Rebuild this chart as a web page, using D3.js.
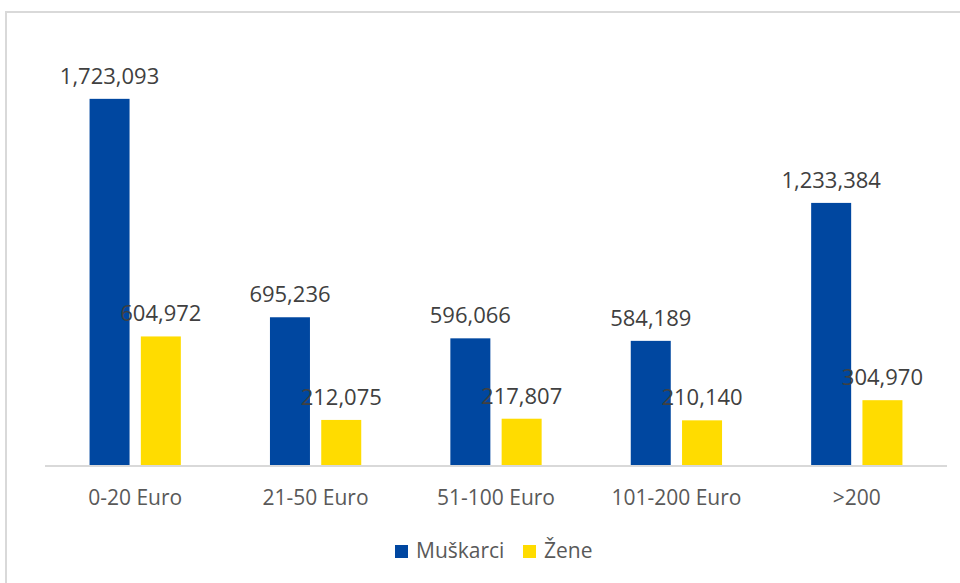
<!DOCTYPE html>
<html>
<head>
<meta charset="utf-8">
<script src="https://cdn.jsdelivr.net/npm/d3@7"></script>
<style>
  html, body { margin: 0; padding: 0; background: #fff; overflow: hidden; }
  svg { display: block; font-family: "Open Sans", "Liberation Sans", sans-serif; }
</style>
</head>
<body>
<svg id="chart" width="960" height="583"></svg>
<script>
const categories = ['0-20 Euro', '21-50 Euro', '51-100 Euro', '101-200 Euro', '>200'];
const seriesNames = ['Muškarci', 'Žene'];
const muskarci = [1723093, 695236, 596066, 584189, 1233384];
const zene = [604972, 212075, 217807, 210140, 304970];
const seriesColors = ['#0047a0', '#ffdc00'];

const width = 960, height = 583;
const svg = d3.select('#chart');

// chart frame, cut off on the right and bottom like the screenshot
svg.append('rect')
    .attr('x', 6).attr('y', 12)
    .attr('width', 980).attr('height', 600)
    .attr('fill', 'none')
    .attr('stroke', '#d9d9d9')
    .attr('stroke-width', 2);

const plotLeft = 45, plotRight = 947, plotBottom = 465;

const x0 = d3.scaleBand()
    .domain(categories)
    .range([plotLeft, plotRight])
    .paddingInner(0.494)
    .paddingOuter(0.247);

const x1 = d3.scaleBand()
    .domain(seriesNames)
    .range([0, x0.bandwidth()])
    .paddingInner(0.22);

const y = d3.scaleLinear()
    .domain([0, 2000000])
    .range([plotBottom, plotBottom - 425]);

const rows = categories.map((c, i) => ({
    cat: c,
    values: [
        {name: seriesNames[0], value: muskarci[i], color: seriesColors[0]},
        {name: seriesNames[1], value: zene[i], color: seriesColors[1]}
    ]
}));

const groups = svg.append('g')
    .selectAll('g')
    .data(rows)
    .enter()
    .append('g')
    .attr('transform', d => `translate(${x0(d.cat)},0)`);

groups.selectAll('rect')
    .data(d => d.values)
    .enter()
    .append('rect')
    .attr('x', d => x1(d.name))
    .attr('y', d => y(d.value))
    .attr('width', x1.bandwidth())
    .attr('height', d => y(0) - y(d.value))
    .attr('fill', d => d.color);

// baseline
svg.append('line')
    .attr('x1', plotLeft).attr('x2', plotRight)
    .attr('y1', plotBottom + 1).attr('y2', plotBottom + 1)
    .attr('stroke', '#d9d9d9')
    .attr('stroke-width', 2);

// data labels
const fmt = d3.format(',');
groups.selectAll('text')
    .data(d => d.values)
    .enter()
    .append('text')
    .attr('x', d => x1(d.name) + x1.bandwidth() / 2)
    .attr('y', d => y(d.value) - 15)
    .attr('text-anchor', 'middle')
    .attr('font-size', 22)
    .attr('fill', '#404040')
    .text(d => fmt(d.value));

// category axis labels
svg.append('g')
    .selectAll('text')
    .data(categories)
    .enter()
    .append('text')
    .attr('x', d => x0(d) + x0.bandwidth() / 2)
    .attr('y', 505)
    .attr('text-anchor', 'middle')
    .attr('font-size', 21)
    .attr('fill', '#595959')
    .text(d => d);

// legend
const legendItems = [
    {name: seriesNames[0], color: seriesColors[0], x: 395},
    {name: seriesNames[1], color: seriesColors[1], x: 523}
];
const legend = svg.append('g');
legend.selectAll('rect')
    .data(legendItems)
    .enter()
    .append('rect')
    .attr('x', d => d.x)
    .attr('y', 545)
    .attr('width', 13)
    .attr('height', 13)
    .attr('fill', d => d.color);
legend.selectAll('text')
    .data(legendItems)
    .enter()
    .append('text')
    .attr('x', d => d.x + 21)
    .attr('y', 558)
    .attr('font-size', 21)
    .attr('fill', '#595959')
    .text(d => d.name);
</script>
</body>
</html>
